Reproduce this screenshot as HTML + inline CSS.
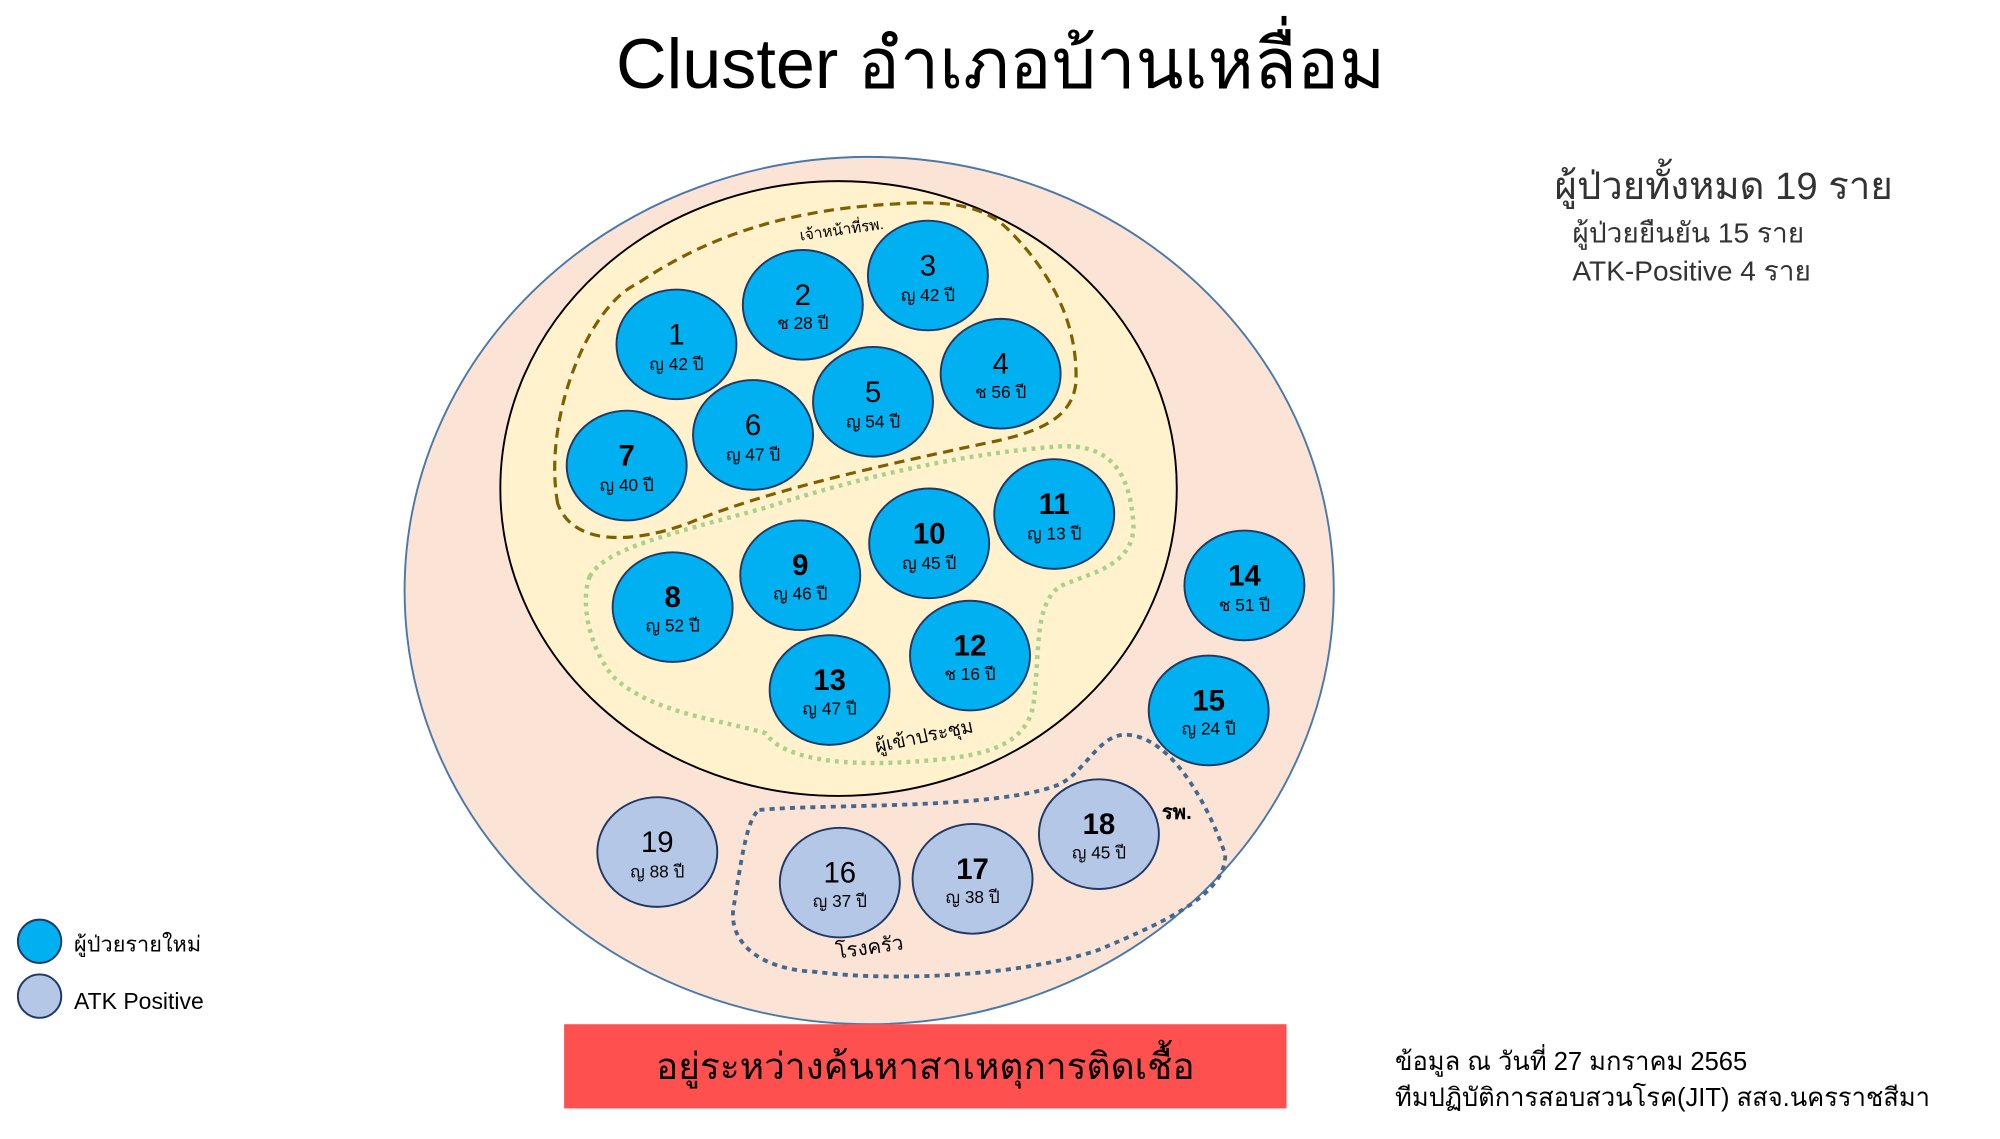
<!DOCTYPE html>
<html><head><meta charset="utf-8"><style>
html,body{margin:0;padding:0;background:#fff;}
svg{display:block;}
text{font-family:"Liberation Sans","Noto Sans CJK SC",sans-serif;}
</style></head><body>
<svg width="2000" height="1139" viewBox="0 0 1567 893" preserveAspectRatio="none" xmlns="http://www.w3.org/2000/svg">
<text x="784" y="69" font-size="55" text-anchor="middle" fill="#000">Cluster อำเภอบ้านเหลื่อม</text>
<text x="1218" y="156" font-size="30" fill="#333">ผู้ป่วยทั้งหมด 19 ราย</text>
<text x="1232" y="190" font-size="22" fill="#333">ผู้ป่วยยืนยัน 15 ราย</text>
<text x="1232" y="220" font-size="22" fill="#333">ATK-Positive 4 ราย</text>

<ellipse cx="681" cy="463" rx="364" ry="340" fill="#fbe3d6" stroke="#4a78a8" stroke-width="1.5"/>
<ellipse cx="657" cy="383" rx="265" ry="241" fill="#fff2cc" stroke="#000" stroke-width="1.5"/>

<path d="M437,395 C425,330 460,240 500,222 C540,195 600,165 700,160 C740,157 770,160 790,180 C820,210 845,250 843,300 C840,330 810,340 770,348 C690,365 600,385 540,410 C500,425 450,430 437,395 Z" fill="none" stroke="#7f6000" stroke-width="2.5" stroke-dasharray="8,5"/>
<path d="M462,452 C475,430 520,420 600,398 C680,372 760,355 830,350 C870,348 885,370 888,410 C890,445 850,450 830,460 C810,475 815,510 810,550 C805,590 760,595 700,598 C640,600 610,590 600,575 C570,565 510,560 480,530 C460,505 455,470 462,452 Z" fill="none" stroke="#a9d18e" stroke-width="3.5" stroke-dasharray="3,4"/>
<path d="M595,635 C650,630 780,635 830,615 C850,605 860,578 880,576 C920,575 950,640 960,670 C960,700 920,720 860,745 C800,765 700,770 640,762 C590,760 570,735 575,710 C580,680 585,640 595,635 Z" fill="none" stroke="#44698f" stroke-width="3" stroke-dasharray="4,4"/>

<text x="660" y="184" font-size="12" text-anchor="middle" fill="#000" transform="rotate(-8 660 184)">เจ้าหน้าที่รพ.</text>
<text x="725" y="582" font-size="15" text-anchor="middle" fill="#000" transform="rotate(-12 725 582)">ผู้เข้าประชุม</text>
<text x="682" y="748" font-size="16" text-anchor="middle" fill="#000" transform="rotate(-8 682 748)">โรงครัว</text>
<text x="922" y="642" font-size="16" text-anchor="middle" fill="#000" font-weight="bold">รพ.</text>

<g stroke="#1f3864" stroke-width="1.5">
<ellipse cx="530" cy="270" rx="47" ry="43" fill="#00b0f0"/>
<ellipse cx="629" cy="239" rx="47" ry="43" fill="#00b0f0"/>
<ellipse cx="727" cy="216" rx="47" ry="43" fill="#00b0f0"/>
<ellipse cx="784" cy="293" rx="47" ry="43" fill="#00b0f0"/>
<ellipse cx="684" cy="315" rx="47" ry="43" fill="#00b0f0"/>
<ellipse cx="590" cy="341" rx="47" ry="43" fill="#00b0f0"/>
<ellipse cx="491" cy="365" rx="47" ry="43" fill="#00b0f0"/>
<ellipse cx="527" cy="476" rx="47" ry="43" fill="#00b0f0"/>
<ellipse cx="627" cy="451" rx="47" ry="43" fill="#00b0f0"/>
<ellipse cx="728" cy="426" rx="47" ry="43" fill="#00b0f0"/>
<ellipse cx="826" cy="403" rx="47" ry="43" fill="#00b0f0"/>
<ellipse cx="760" cy="514" rx="47" ry="43" fill="#00b0f0"/>
<ellipse cx="650" cy="541" rx="47" ry="43" fill="#00b0f0"/>
<ellipse cx="975" cy="459" rx="47" ry="43" fill="#00b0f0"/>
<ellipse cx="947" cy="557" rx="47" ry="43" fill="#00b0f0"/>
<ellipse cx="658" cy="692" rx="47" ry="43" fill="#b4c7e7"/>
<ellipse cx="762" cy="689" rx="47" ry="43" fill="#b4c7e7"/>
<ellipse cx="861" cy="654" rx="47" ry="43" fill="#b4c7e7"/>
<ellipse cx="515" cy="668" rx="47" ry="43" fill="#b4c7e7"/>
<circle cx="31" cy="738" r="17" fill="#00b0f0"/>
<circle cx="31" cy="781" r="17" fill="#b4c7e7"/>
</g>

<g text-anchor="middle" fill="#000">
<g font-size="23">
<text x="530" y="270">1</text><text x="629" y="239">2</text><text x="727" y="216">3</text>
<text x="784" y="293">4</text><text x="684" y="315">5</text><text x="590" y="341">6</text>
<text x="491" y="365" font-weight="bold">7</text>
<text x="658" y="692">16</text><text x="515" y="668">19</text>
</g>
<g font-size="23" font-weight="bold">
<text x="527" y="476">8</text><text x="627" y="451">9</text><text x="728" y="426">10</text>
<text x="826" y="403">11</text><text x="760" y="514">12</text><text x="650" y="541">13</text>
<text x="975" y="459">14</text><text x="947" y="557">15</text><text x="762" y="689">17</text>
<text x="861" y="654">18</text>
</g>
<g font-size="13.5">
<text x="530" y="290">ญ 42 ปี</text><text x="629" y="258">ช 28 ปี</text><text x="727" y="236">ญ 42 ปี</text>
<text x="784" y="312">ช 56 ปี</text><text x="684" y="335">ญ 54 ปี</text><text x="590" y="361">ญ 47 ปี</text>
<text x="491" y="385">ญ 40 ปี</text><text x="527" y="495">ญ 52 ปี</text><text x="627" y="470">ญ 46 ปี</text>
<text x="728" y="446">ญ 45 ปี</text><text x="826" y="423">ญ 13 ปี</text><text x="760" y="533">ช 16 ปี</text>
<text x="650" y="560">ญ 47 ปี</text><text x="975" y="479">ช 51 ปี</text><text x="947" y="576">ญ 24 ปี</text>
<text x="658" y="711">ญ 37 ปี</text><text x="762" y="708">ญ 38 ปี</text><text x="861" y="673">ญ 45 ปี</text>
<text x="515" y="688">ญ 88 ปี</text>
</g>
</g>

<text x="58" y="746" font-size="17" fill="#000">ผู้ป่วยรายใหม่</text>
<text x="58" y="791" font-size="18" fill="#000">ATK Positive</text>

<rect x="442" y="803" width="566" height="66" fill="#ff5050"/>
<text x="725" y="846" font-size="29" text-anchor="middle" fill="#000">อยู่ระหว่างค้นหาสาเหตุการติดเชื้อ</text>

<text x="1093" y="839" font-size="20" fill="#000">ข้อมูล ณ วันที่ 27 มกราคม 2565</text>
<text x="1093" y="867" font-size="20" fill="#000">ทีมปฏิบัติการสอบสวนโรค(JIT) สสจ.นครราชสีมา</text>
</svg>
</body></html>
